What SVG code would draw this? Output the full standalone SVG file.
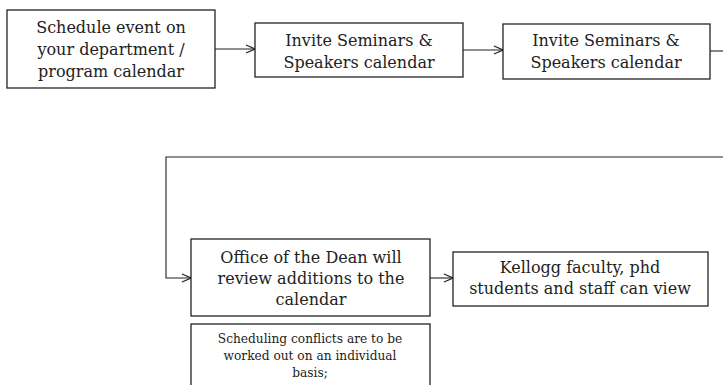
<svg xmlns="http://www.w3.org/2000/svg" width="723" height="385" viewBox="0 0 723 385">
<defs>
<marker id="arr" viewBox="0 0 10 10" refX="10" refY="5" markerWidth="10" markerHeight="10" markerUnits="userSpaceOnUse" orient="auto">
<path d="M1,1 L10,5 L1,9" fill="none" stroke="#222" stroke-width="1.2"/>
</marker>
<style>
.box{fill:#fff;stroke:#222;stroke-width:1.3}
.t{font-family:"DejaVu Serif","Liberation Serif",serif;font-size:16px;fill:#222;text-anchor:middle}
.s{font-family:"DejaVu Serif","Liberation Serif",serif;font-size:12.2px;fill:#222;text-anchor:middle}
.c{fill:none;stroke:#222;stroke-width:1.1}
</style>
</defs>
<rect width="723" height="385" fill="#fff"/>
<g id="connectors">
<line class="c" x1="215" y1="49" x2="255" y2="49" marker-end="url(#arr)"/>
<line class="c" x1="463" y1="50" x2="503" y2="50" marker-end="url(#arr)"/>
<line class="c" x1="710" y1="51" x2="723" y2="51"/>
<polyline class="c" points="723,157 166,157 166,278 191,278" marker-end="url(#arr)"/>
<line class="c" x1="430" y1="278" x2="453" y2="278" marker-end="url(#arr)"/>
</g>
<g id="n1">
<rect class="box" x="7" y="10" width="208" height="78"/>
<text class="t" x="111" y="33">Schedule event on</text>
<text class="t" x="111" y="55">your department /</text>
<text class="t" x="111" y="77">program calendar</text>
</g>
<g id="n2">
<rect class="box" x="255" y="23" width="208" height="54"/>
<text class="t" x="359" y="46">Invite Seminars &amp;</text>
<text class="t" x="359" y="68">Speakers calendar</text>
</g>
<g id="n3">
<rect class="box" x="503" y="24" width="207" height="55"/>
<text class="t" x="606" y="46">Invite Seminars &amp;</text>
<text class="t" x="606" y="68">Speakers calendar</text>
</g>
<g id="n4">
<rect class="box" x="191" y="239" width="239" height="77"/>
<text class="t" x="311" y="263">Office of the Dean will</text>
<text class="t" x="311" y="284">review additions to the</text>
<text class="t" x="311" y="305">calendar</text>
</g>
<g id="n5">
<rect class="box" x="191" y="324" width="239" height="70"/>
<text class="s" x="310" y="343">Scheduling conflicts are to be</text>
<text class="s" x="310" y="360">worked out on an individual</text>
<text class="s" x="310" y="377">basis;</text>
</g>
<g id="n6">
<rect class="box" x="453" y="252" width="255" height="54"/>
<text class="t" x="580" y="273">Kellogg faculty, phd</text>
<text class="t" x="580" y="294">students and staff can view</text>
</g>
</svg>
